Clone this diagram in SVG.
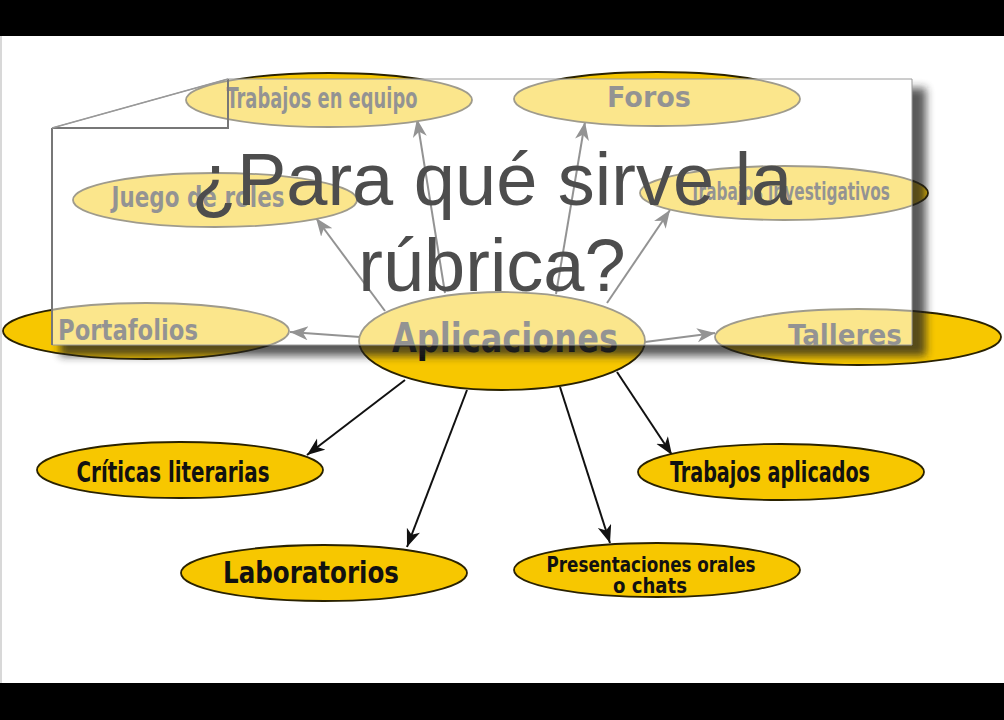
<svg xmlns="http://www.w3.org/2000/svg" width="1004" height="720" viewBox="0 0 1004 720">
<style>
.node ellipse{fill:#f7c700;stroke:#2a2200;stroke-width:1.8}
.lbl{font-family:"DejaVu Sans Condensed","DejaVu Sans",sans-serif;font-weight:bold;fill:#111;text-anchor:middle}
.edge{stroke:#111;stroke-width:2;fill:none;marker-end:url(#ah)}
.title{font-family:"Liberation Sans",Arial,sans-serif;font-size:74px;fill:#4d4d4d;text-anchor:middle}
</style>
<defs>
<marker id="ah" markerUnits="userSpaceOnUse" markerWidth="20" markerHeight="16" refX="18" refY="7" orient="auto">
<path d="M0,0 L18,7 L0,14 L5,7 Z" fill="#111"/>
</marker>
<filter id="blur" x="-5%" y="-5%" width="110%" height="120%"><feGaussianBlur stdDeviation="4"/></filter>
<clipPath id="outside"><path clip-rule="evenodd" d="M0,0H1004V720H0Z M0,0H912V345H0Z"/></clipPath>
</defs>
<rect x="0" y="0" width="1004" height="720" fill="#fff"/>
<rect x="0" y="36" width="2" height="647" fill="#d8d8d8"/>

<g id="connectors">
<line class="edge" x1="445" y1="293" x2="417" y2="119"/>
<line class="edge" x1="556" y1="294" x2="585" y2="122"/>
<line class="edge" x1="607" y1="303" x2="670" y2="210"/>
<line class="edge" x1="385" y1="311" x2="316" y2="218"/>
<line class="edge" x1="360" y1="337" x2="290" y2="332"/>
<line class="edge" x1="645" y1="342" x2="715" y2="333"/>
<line class="edge" x1="405" y1="380" x2="307" y2="455"/>
<line class="edge" x1="467" y1="390" x2="407" y2="547"/>
<line class="edge" x1="560" y1="387" x2="610" y2="543"/>
<line class="edge" x1="617" y1="372" x2="672" y2="455"/>
</g>

<g id="n-trabajos-equipo" class="node"><ellipse cx="329" cy="100" rx="143" ry="27"/><text class="lbl" x="322" y="108" font-size="28" textLength="191" lengthAdjust="spacingAndGlyphs">Trabajos en equipo</text></g>
<g id="n-foros" class="node"><ellipse cx="657" cy="99" rx="143" ry="27"/><text class="lbl" x="649" y="107" font-size="29" textLength="84" lengthAdjust="spacingAndGlyphs">Foros</text></g>
<g id="n-juego-roles" class="node"><ellipse cx="215" cy="200" rx="142" ry="27"/><text class="lbl" x="198" y="207" font-size="28" textLength="173" lengthAdjust="spacingAndGlyphs">Juego de roles</text></g>
<g id="n-trabajos-invest" class="node"><ellipse cx="784" cy="193" rx="144" ry="27"/><text class="lbl" x="790" y="200" font-size="24" textLength="200" lengthAdjust="spacingAndGlyphs">Trabajos investigativos</text></g>
<g id="n-portafolios" class="node"><ellipse cx="146" cy="331" rx="143" ry="28"/><text class="lbl" x="128" y="340" font-size="29" textLength="140" lengthAdjust="spacingAndGlyphs">Portafolios</text></g>
<g id="n-talleres" class="node"><ellipse cx="858" cy="337" rx="143" ry="28"/><text class="lbl" x="845" y="345" font-size="29" textLength="114" lengthAdjust="spacingAndGlyphs">Talleres</text></g>
<g id="n-aplicaciones" class="node"><ellipse cx="502" cy="341" rx="143" ry="49"/><text class="lbl" x="505" y="352" font-size="40" textLength="226" lengthAdjust="spacingAndGlyphs">Aplicaciones</text></g>
<g id="n-criticas" class="node"><ellipse cx="180" cy="470" rx="143" ry="28"/><text class="lbl" x="173" y="482" font-size="29" textLength="193" lengthAdjust="spacingAndGlyphs">Críticas literarias</text></g>
<g id="n-laboratorios" class="node"><ellipse cx="324" cy="573" rx="143" ry="28"/><text class="lbl" x="311" y="583" font-size="30" textLength="176" lengthAdjust="spacingAndGlyphs">Laboratorios</text></g>
<g id="n-trabajos-aplicados" class="node"><ellipse cx="781" cy="472" rx="143" ry="28"/><text class="lbl" x="770" y="482" font-size="29" textLength="200" lengthAdjust="spacingAndGlyphs">Trabajos aplicados</text></g>
<g id="n-presentaciones" class="node"><ellipse cx="657" cy="570" rx="143" ry="27"/><text class="lbl" x="651" y="572" font-size="21" textLength="209" lengthAdjust="spacingAndGlyphs">Presentaciones orales</text><text class="lbl" x="650" y="593" font-size="21" textLength="74" lengthAdjust="spacingAndGlyphs">o chats</text></g>

<g id="panel">
<rect x="60" y="88" width="866" height="268" fill="#222" opacity="0.75" filter="url(#blur)" clip-path="url(#outside)"/>
<path d="M52,128 L228,79 H912 V345 H52 Z" fill="#fff" fill-opacity="0.55" stroke="#9a9a9a" stroke-width="1"/>
<line x1="52" y1="128" x2="52" y2="345" stroke="#777" stroke-width="2"/>
<path d="M52,128 H228 V79" fill="none" stroke="#777" stroke-width="2"/>
<line x1="52" y1="128" x2="228" y2="79" stroke="#999" stroke-width="1.5"/>
<text class="title" x="492" y="205">¿Para qué sirve la</text>
<text class="title" x="492" y="291">rúbrica?</text>
</g>

<rect x="0" y="0" width="1004" height="36" fill="#000"/>
<rect x="0" y="683" width="1004" height="37" fill="#000"/>
</svg>
